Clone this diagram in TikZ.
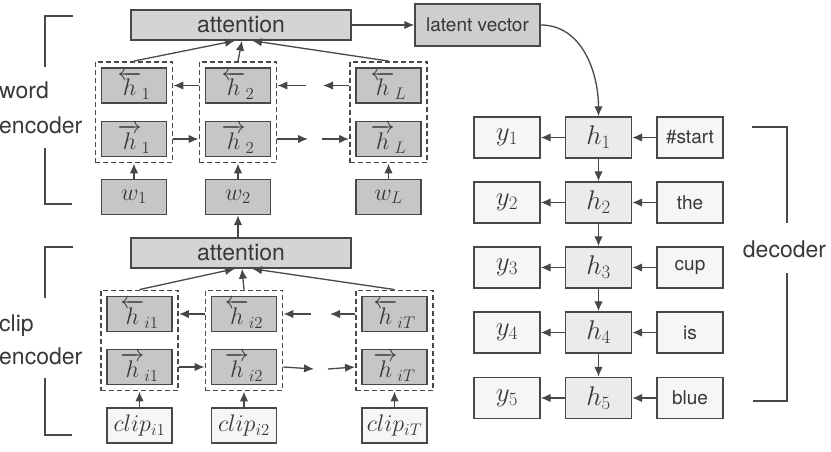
\RequirePackage{fix-cm}
\documentclass[tikz,border=0pt]{standalone}
\usepackage[no-math]{fontspec}
\setmainfont{TeX Gyre Heros}
\usetikzlibrary{arrows.meta,fit}
\definecolor{bordc}{HTML}{484848}
\definecolor{txtc}{HTML}{383838}
\definecolor{darkc}{HTML}{C6C6C6}
\definecolor{attc}{HTML}{D4D4D4}
\definecolor{latc}{HTML}{CECECE}
\definecolor{litec}{HTML}{F6F6F6}
\definecolor{hdc}{HTML}{EBEBEB}
\tikzset{
  box/.style={draw=bordc, line width=1.4pt, minimum width=65pt, minimum height=35pt, inner sep=0pt, text=txtc, font=\fontsize{24}{28}\selectfont},
  dark/.style={box, fill=darkc},
  lite/.style={box, fill=litec},
  dbox/.style={box, minimum width=66pt, minimum height=41pt, fill=litec, font=\fontsize{27}{31}\selectfont},
  dhbox/.style={dbox, fill=hdc},
  wordtxt/.style={font=\fontsize{19}{22}\selectfont},
  attbox/.style={draw=bordc, line width=1.4pt, fill=attc, minimum width=220pt, minimum height=30pt, inner sep=0pt, text=txtc, font=\fontsize{23}{26}\selectfont},
  latbox/.style={draw=bordc, line width=1.4pt, fill=latc, minimum width=125pt, minimum height=42pt, inner sep=0pt, text=txtc, font=\fontsize{19}{22}\selectfont},
  grp/.style={draw=bordc, dash pattern=on 5pt off 3pt, line width=1.5pt, inner sep=5.5pt},
  arr/.style={-{Latex[length=10pt,width=8.5pt]}, line width=1.3pt, draw=bordc},
  brk/.style={line width=1.4pt, draw=bordc},
  lbl/.style={text=txtc, font=\fontsize{23}{26}\selectfont, inner sep=0pt}
}
\begin{document}
\begin{tikzpicture}[x=1pt,y=-1pt]
\useasboundingbox (0,0) rectangle (831,452);

% ---------- word encoder ----------
\node[attbox] (att1) at (241,25) {attention};
\node[latbox] (lat) at (477.5,25) {latent vector};

\node[dark] (wb1) at (134,85.5) {$\overleftarrow{h}_{1}$};
\node[dark] (wf1) at (134,139) {$\overrightarrow{h}_{1}$};
\node[dark] (w1)  at (134,197) {$w_1$};
\node[dark] (wb2) at (238,85.5) {$\overleftarrow{h}_{2}$};
\node[dark] (wf2) at (238,139) {$\overrightarrow{h}_{2}$};
\node[dark] (w2)  at (238,197) {$w_2$};
\node[dark] (wbL) at (388.5,85.5) {$\overleftarrow{h}_{L}$};
\node[dark] (wfL) at (388.5,139) {$\overrightarrow{h}_{L}$};
\node[dark] (wL)  at (388.5,197) {$w_L$};
\node[grp, fit=(wb1)(wf1)] (wg1) {};
\node[grp, fit=(wb2)(wf2)] (wg2) {};
\node[grp, fit=(wbL)(wfL)] (wgL) {};

\coordinate (wbm1) at (323,85.5);
\coordinate (wbm2) at (306,85.5);
\coordinate (wfm1) at (308,139);
\coordinate (wfm2) at (322,139);
\draw[arr] (wg2.west |- wb2.center) -- (wg1.east |- wb1.center);
\draw[arr] (wbm2) -- (wg2.east |- wb2.center);
\draw[arr] (wgL.west |- wbL.center) -- (wbm1);
\draw[arr] (wg1.east |- wf1.center) -- (wg2.west |- wf2.center);
\draw[arr] (wg2.east |- wf2.center) -- (wfm1);
\draw[arr] (wfm2) -- (wgL.west |- wfL.center);
\draw[arr] (w1.north) -- (wg1.south);
\draw[arr] (w2.north) -- (wg2.south);
\draw[arr] (wL.north) -- (wgL.south);
\draw[arr] (wg1.north) -- ([xshift=-6pt]att1.south);
\draw[arr] (wg2.north) -- ([xshift=1pt]att1.south);
\draw[arr] (wgL.north) -- ([xshift=11pt]att1.south);
\draw[arr] (att1.east) -- (lat.west);

% ---------- clip encoder ----------
\node[attbox] (att2) at (241,253) {attention};
\draw[arr] (att2.north -| w2.south) -- (w2.south);

\node[dark] (cb1) at (139.5,314) {$\overleftarrow{h}_{i1}$};
\node[dark] (cf1) at (139.5,367) {$\overrightarrow{h}_{i1}$};
\node[lite] (c1)  at (139.5,425.5) {$clip_{i1}$};
\node[dark] (cb2) at (244,314) {$\overleftarrow{h}_{i2}$};
\node[dark] (cf2) at (244,367) {$\overrightarrow{h}_{i2}$};
\node[lite] (c2)  at (244,425.5) {$clip_{i2}$};
\node[dark] (cbT) at (394.5,314) {$\overleftarrow{h}_{iT}$};
\node[dark] (cfT) at (394.5,367) {$\overrightarrow{h}_{iT}$};
\node[lite] (cT)  at (394.5,425.5) {$clip_{iT}$};
\node[grp, fit=(cb1)(cf1)] (cg1) {};
\node[grp, fit=(cb2)(cf2)] (cg2) {};
\node[grp, fit=(cbT)(cfT)] (cgT) {};

\coordinate (cbm1) at (330,314);
\coordinate (cbm2) at (311,314);
\coordinate (cfm1) at (314,369);
\coordinate (cfm2) at (328,369);
\draw[arr] (cg2.west |- cb2.center) -- (cg1.east |- cb1.center);
\draw[arr] (cbm2) -- (cg2.east |- cb2.center);
\draw[arr] (cgT.west |- cbT.center) -- (cbm1);
\draw[arr] (cg1.east |- cf1.center) -- (cg2.west |- cf2.center);
\draw[arr] (cg2.east |- cf2.center) -- (cfm1);
\draw[arr] (cfm2) -- (cgT.west |- cfT.center);
\draw[arr] (c1.north) -- (cg1.south);
\draw[arr] (c2.north) -- (cg2.south);
\draw[arr] (cT.north) -- (cgT.south);
\draw[arr] (cg1.north) -- ([xshift=-6pt]att2.south);
\draw[arr] (cg2.north) -- ([xshift=1pt]att2.south);
\draw[arr] (cgT.north) -- ([xshift=11pt]att2.south);

% ---------- brackets and labels ----------
\draw[brk] (73,16) -- (45,16) -- (45,67);
\draw[brk] (45,148) -- (45,204) -- (72,204);
\node[lbl, anchor=base west] (lw1) at (-1,99) {word};
\node[lbl, anchor=base west] (lw2) at (-1,133) {encoder};
\draw[brk] (73,247) -- (45,247) -- (45,298);
\draw[brk] (45,378) -- (45,435) -- (72,435);
\node[lbl, anchor=base west] (lc1) at (-1,331) {clip};
\node[lbl, anchor=base west] (lc2) at (-1,364) {encoder};
\draw[brk] (752,127) -- (787,127) -- (787,223);
\draw[brk] (787,273) -- (787,401) -- (753,401);
\node[lbl, anchor=base] (ld) at (784.5,257) {decoder};

% ---------- decoder ----------
\node[dbox]  (y1) at (507,137.5) {$y_1$};
\node[dhbox] (h1) at (598.5,137.5) {$h_1$};
\node[dbox, wordtxt] (x1) at (690,137.5) {\#start};
\node[dbox]  (y2) at (507,202.5) {$y_2$};
\node[dhbox] (h2) at (598.5,202.5) {$h_2$};
\node[dbox, wordtxt] (x2) at (690,202.5) {the};
\node[dbox]  (y3) at (507,267.5) {$y_3$};
\node[dhbox] (h3) at (598.5,267.5) {$h_3$};
\node[dbox, wordtxt] (x3) at (690,267.5) {cup};
\node[dbox]  (y4) at (507,332.5) {$y_4$};
\node[dhbox] (h4) at (598.5,332.5) {$h_4$};
\node[dbox, wordtxt] (x4) at (690,332.5) {is};
\node[dbox]  (y5) at (507,398) {$y_5$};
\node[dhbox] (h5) at (598.5,398) {$h_5$};
\node[dbox, wordtxt] (x5) at (690,398) {blue};
\foreach \i in {1,...,5}{
  \draw[arr] (h\i.west) -- (y\i.east);
  \draw[arr] (x\i.west) -- (h\i.east);
}
\draw[arr] (h1.south) -- (h2.north);
\draw[arr] (h2.south) -- (h3.north);
\draw[arr] (h3.south) -- (h4.north);
\draw[arr] (h4.south) -- (h5.north);
\draw[arr] (lat.east) to[out=0,in=90] (h1.north);
\end{tikzpicture}
\end{document}
